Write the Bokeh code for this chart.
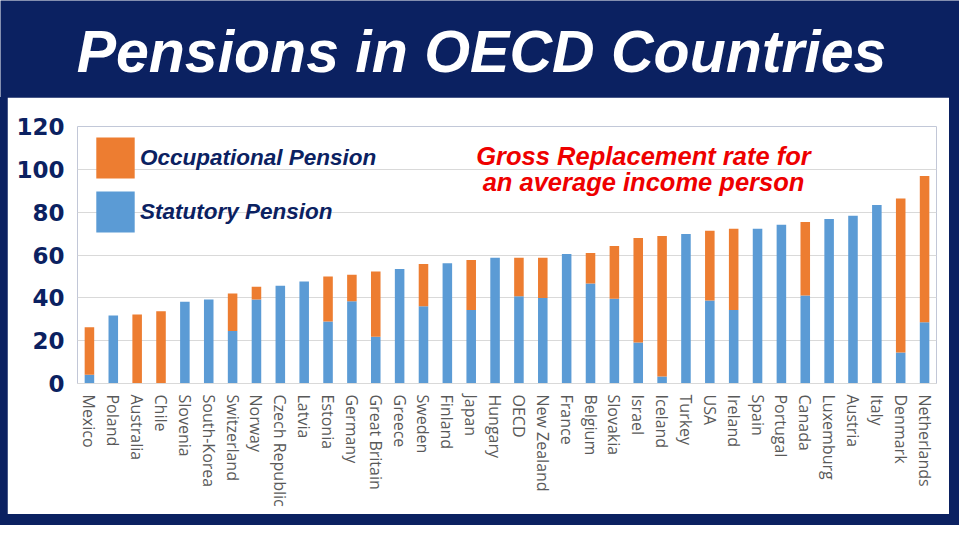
from bokeh.plotting import figure
from bokeh.models import FactorRange, Range1d, Legend, LegendItem, Label, FixedTicker
from bokeh.layouts import column
from bokeh.embed import file_html
from bokeh.resources import INLINE

countries = ["Mexico", "Poland", "Australia", "Chile", "Slovenia", "South-Korea",
             "Switzerland", "Norway", "Czech Republic", "Latvia", "Estonia", "Germany",
             "Great Britain", "Greece", "Sweden", "Finland", "Japan", "Hungary", "OECD",
             "New Zealand", "France", "Belgium", "Slovakia", "Israel", "Iceland", "Turkey",
             "USA", "Ireland", "Spain", "Portugal", "Canada", "Luxemburg", "Austria",
             "Italy", "Denmark", "Netherlands"]
statutory = [4.1, 31.7, 0.0, 0.0, 38.2, 39.2, 24.5, 39.2, 45.6, 47.6, 29.0, 38.4,
             21.8, 53.5, 36.1, 56.2, 34.3, 58.7, 40.7, 39.9, 60.5, 46.7, 39.6, 19.2,
             3.3, 69.8, 38.7, 34.3, 72.2, 74.1, 41.1, 76.8, 78.3, 83.3, 14.5, 28.6]
occupational = [22.2, 0.0, 32.2, 33.7, 0.0, 0.0, 17.5, 6.0, 0.0, 0.0, 21.0, 12.4,
                30.5, 0.0, 19.7, 0.0, 23.4, 0.0, 18.0, 18.8, 0.0, 14.2, 24.6, 48.7,
                65.6, 0.0, 32.6, 37.9, 0.0, 0.0, 34.3, 0.0, 0.0, 0.0, 71.9, 68.3]
y_ticks = [0, 20, 40, 60, 80, 100, 120]
series_names = ["Statutory Pension", "Occupational Pension"]
title_text = "Pensions in OECD Countries"
note_lines = ["Gross Replacement rate for", "an average income person"]

NAVY = "#0b2161"
BLUE = "#5b9bd5"
ORANGE = "#ed7d31"

BL, BR, BT = 70, 13, 29      # chart borders
ML, MR, MB = 7, 10, 11       # navy frame around the white chart area

# ---- title band (its own root, frame spans the whole band) ----
tf = figure(width=959, height=97, output_backend="svg", toolbar_location=None,
            x_range=Range1d(0, 1), y_range=Range1d(0, 1),
            x_axis_type=None, y_axis_type=None, min_border=0)
tf.grid.visible = False
tf.outline_line_color = None
tf.background_fill_color = NAVY
tf.border_fill_color = NAVY
tf.add_layout(Label(x=481, y=46, x_units="screen", y_units="screen",
                    text=title_text, text_font="Liberation Sans",
                    text_font_style="bold italic", text_font_size="59px",
                    text_color="white", text_align="center",
                    text_baseline="middle"))

# ---- chart ----
src = {"country": countries, "Statutory Pension": statutory,
       "Occupational Pension": occupational}
p = figure(width=942, height=417, output_backend="svg", toolbar_location=None,
           x_range=FactorRange(factors=countries), y_range=Range1d(0, 120),
           min_border_left=BL, min_border_right=BR, min_border_top=BT,
           min_border_bottom=131)
p.margin = (0, MR, MB, ML)
p.outline_line_color = None
p.background_fill_color = "white"
p.border_fill_color = "white"

rs = p.vbar_stack(series_names, x="country", width=0.40, source=src,
                  color=[BLUE, ORANGE], line_color=None)

p.xgrid.grid_line_color = None
p.ygrid.grid_line_color = "#d9d9d9"
p.ygrid.ticker = FixedTicker(ticks=y_ticks)

p.yaxis.ticker = FixedTicker(ticks=y_ticks)
p.yaxis.axis_line_color = None
p.yaxis.major_tick_line_color = None
p.yaxis.minor_tick_line_color = None
p.yaxis.major_tick_out = 0
p.yaxis.major_tick_in = 0
p.yaxis.minor_tick_out = 0
p.yaxis.major_label_text_font = "DejaVu Sans"
p.yaxis.major_label_text_font_style = "bold"
p.yaxis.major_label_text_font_size = "23px"
p.yaxis.major_label_text_color = NAVY
p.yaxis.major_label_standoff = 13

p.xaxis.axis_line_color = "#d9d9d9"
p.xaxis.major_tick_line_color = None
p.xaxis.minor_tick_line_color = None
p.xaxis.major_tick_out = 0
p.xaxis.major_tick_in = 0
p.xaxis.major_label_orientation = "vertical"
p.xaxis.major_label_text_font = "Open Sans"
p.xaxis.major_label_text_font_size = "16px"
p.xaxis.major_label_text_color = "#595959"
p.xaxis.major_label_standoff = 11

legend = Legend(items=[LegendItem(label=series_names[1], renderers=[rs[1]]),
                       LegendItem(label=series_names[0], renderers=[rs[0]])],
                location=(14, 146), glyph_width=48, glyph_height=51, label_standoff=1,
                spacing=3, padding=0, margin=0, border_line_color=None,
                background_fill_alpha=0, label_text_font="Liberation Sans",
                label_text_font_style="bold italic", label_text_font_size="22.5px",
                label_text_color=NAVY)
p.add_layout(legend)

for txt, yy in zip(note_lines, [228, 202]):
    p.add_layout(Label(x=566, y=yy, x_units="screen", y_units="screen", text=txt,
                       text_font="Liberation Sans", text_font_style="bold italic",
                       text_font_size="25.5px", text_color="#ee0000",
                       text_align="center", text_baseline="middle"))

chart = column(p, spacing=0, styles={"background-color": NAVY})
open("out.html", "w").write(file_html([tf, chart], INLINE))
